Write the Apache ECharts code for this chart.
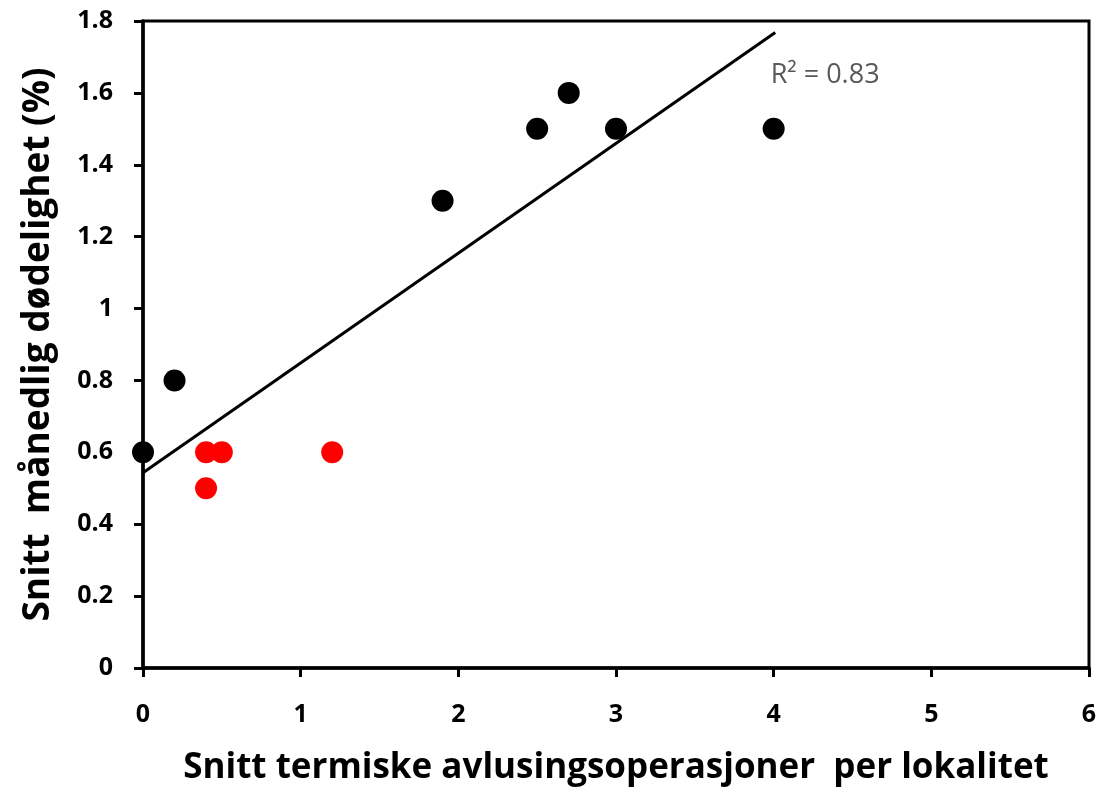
<!DOCTYPE html>
<html><head><meta charset="utf-8">
<script src="https://cdn.jsdelivr.net/npm/echarts@6/dist/echarts.min.js"></script>
<style>html,body{margin:0;padding:0;background:#fff}#c{width:1112px;height:792px}</style>
</head><body><div id="c"></div>
<script>
const blackPoints = [[0,0.6],[0.2,0.8],[1.9,1.3],[2.5,1.5],[2.7,1.6],[3.0,1.5],[4.0,1.5]];
const redPoints = [[0.4,0.6],[0.5,0.6],[0.4,0.5],[1.2,0.6]];
const trendLine = [[0,0.543],[4.01,1.768]];
const r2Label = 'R² = 0.83';
const xTitle = 'Snitt termiske avlusingsoperasjoner  per lokalitet';
const yTitle = 'Snitt  månedlig dødelighet (%)';
const FONT = '"Open Sans",sans-serif';
const chart = echarts.init(document.getElementById('c'));
chart.setOption({
  animation:false,
  grid:{left:143,right:23,top:21,bottom:124,show:true,borderColor:'#000',borderWidth:3},
  xAxis:{type:'value',min:0,max:6,interval:1,
    axisLine:{show:true,onZero:false,lineStyle:{color:'#000',width:3.5}},
    axisTick:{show:true,inside:false,length:9,lineStyle:{color:'#000',width:3}},
    splitLine:{show:false},
    axisLabel:{color:'#000',fontSize:25,fontWeight:'bold',fontFamily:FONT,margin:34},
    name:xTitle,nameLocation:'middle',nameGap:83,
    nameTextStyle:{color:'#000',fontSize:35,fontWeight:'bold',fontFamily:FONT}},
  yAxis:{type:'value',min:0,max:1.8,interval:0.2,
    axisLine:{show:true,onZero:false,lineStyle:{color:'#000',width:3.5}},
    axisTick:{show:true,inside:false,length:9,lineStyle:{color:'#000',width:3}},
    splitLine:{show:false},
    axisLabel:{color:'#000',fontSize:25,fontWeight:'bold',fontFamily:FONT,margin:30,
      formatter:v=>String(Math.round(v*10)/10)},
    name:yTitle,nameLocation:'middle',nameGap:86,nameRotate:90,
    nameTextStyle:{color:'#000',fontSize:37,fontWeight:'bold',fontFamily:FONT}},
  series:[
    {type:'line',data:trendLine,symbol:'none',lineStyle:{color:'#000',width:3},z:1,
      markPoint:{symbol:'circle',symbolSize:0,data:[{coord:[4.0,1.65],label:{show:true,formatter:r2Label,position:'right',offset:[-8,0],color:'#595959',fontSize:27,fontFamily:FONT}}]}},
    {type:'scatter',data:blackPoints,symbol:'circle',symbolSize:22,itemStyle:{color:'#000',opacity:1},z:3},
    {type:'scatter',data:redPoints,symbol:'circle',symbolSize:22,itemStyle:{color:'#ff0000',opacity:1},z:3}
  ]
});
</script></body></html>
